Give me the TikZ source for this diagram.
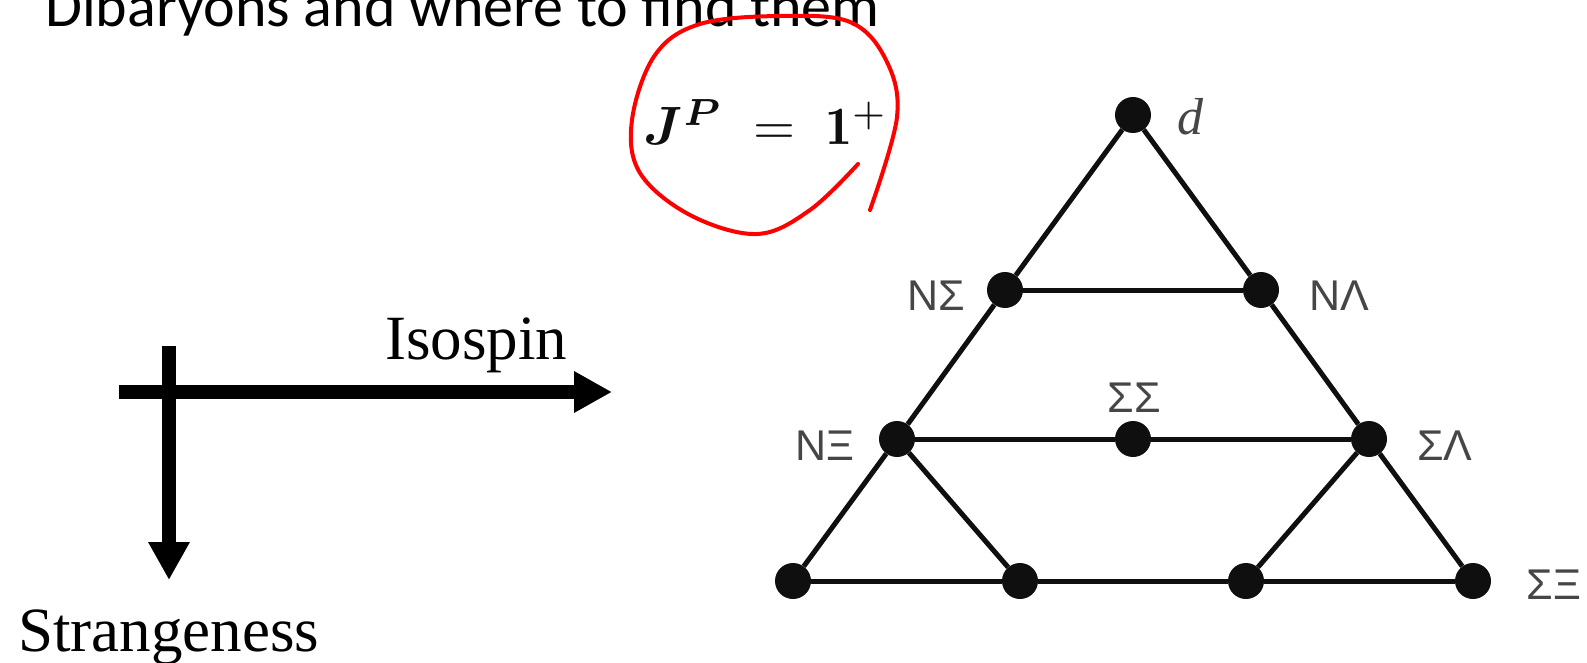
\documentclass[tikz,border=0pt]{standalone}
\usepackage{amsmath,amssymb}
\usepackage{fontspec}
\usetikzlibrary{arrows.meta,positioning}
\newfontfamily\titlefont{Carlito}
\newfontfamily\serifax{Liberation Serif}
\newfontfamily\labelfont{Liberation Sans}
\definecolor{ink}{RGB}{15,15,15}
\definecolor{lblgray}{RGB}{70,70,70}
\definecolor{pen}{RGB}{255,0,0}

\begin{document}
\begin{tikzpicture}[x=1pt, y=-1pt,
    vtx/.style={circle, fill=ink, minimum size=36pt, inner sep=0pt},
    link/.style={draw=ink, line width=5pt},
    lab/.style={text=lblgray, font=\labelfont\fontsize{43}{50}\selectfont, inner sep=0pt},
    axarrow/.style={line width=14pt, -{Triangle[length=38pt, width=39pt]}},
    axlabel/.style={font=\serifax\fontsize{63}{75}\selectfont, inner sep=0pt, anchor=base west}
]
\useasboundingbox (0,0) rectangle (1587,663);
\clip (0,0) rectangle (1587,663);
\fill[white] (0,0) rectangle (1587,663);

\node[font=\titlefont\fontsize{60}{72}\selectfont, anchor=base west, inner sep=0pt] (title) at (45,27) {Dibaryons and where to find them};

\coordinate (h0) at (119,392);
\coordinate (h1) at (612,392);
\coordinate (v0) at (169,346);
\coordinate (v1) at (169,580);
\draw[axarrow] (h0) -- (h1);
\draw[axarrow] (v0) -- (v1);
\node[axlabel] (iso) at (385,359) {Isospin};
\node[axlabel] (strange) at (18,651) {Strangeness};

\node[vtx] (d) at (1133,115) {};
\node[vtx] (ns) at (1005,290) {};
\node[vtx] (nl) at (1261,290) {};
\node[vtx] (nx) at (897,439) {};
\node[vtx] (ss) at (1133,439) {};
\node[vtx] (sl) at (1369,439) {};
\node[vtx] (b1) at (793,581) {};
\node[vtx] (b2) at (1020,581) {};
\node[vtx] (b3) at (1246,581) {};
\node[vtx] (sx) at (1473,581) {};

\draw[link] (d) -- (ns) -- (nx) -- (b1);
\draw[link] (d) -- (nl) -- (sl) -- (sx);
\draw[link] (ns) -- (nl);
\draw[link] (nx) -- (ss) -- (sl);
\draw[link] (b1) -- (b2) -- (b3) -- (sx);
\draw[link] (nx) -- (b2);
\draw[link] (sl) -- (b3);

\node[font=\serifax\itshape\fontsize{52}{60}\selectfont, anchor=base west, inner sep=0pt, text=lblgray] (ld) at (1177,135) {d};
\node[lab] (lns) at (936,296) {NΣ};
\node[lab] (lnl) at (1339,296) {NΛ};
\node[lab] (lss) at (1134,398) {ΣΣ};
\node[lab] (lnx) at (825,446) {NΞ};
\node[lab] (lsl) at (1445,446) {ΣΛ};
\node[lab] (lsx) at (1554,585) {ΣΞ};

\node[scale=5.4, anchor=base, inner sep=0pt, text=ink] (jp) at (766,145) {$\boldsymbol{J^{P}}\;=\;\mathbf{1}^{+}$};
\draw[pen, line width=4pt, line cap=round] plot[smooth, tension=0.6] coordinates {(858,164) (810,210) (757,234) (690,215) (640,173) (632,120) (655,55) (700,24) (780,16) (850,22) (886,60) (897,117) (870,210)};
\end{tikzpicture}
\end{document}
